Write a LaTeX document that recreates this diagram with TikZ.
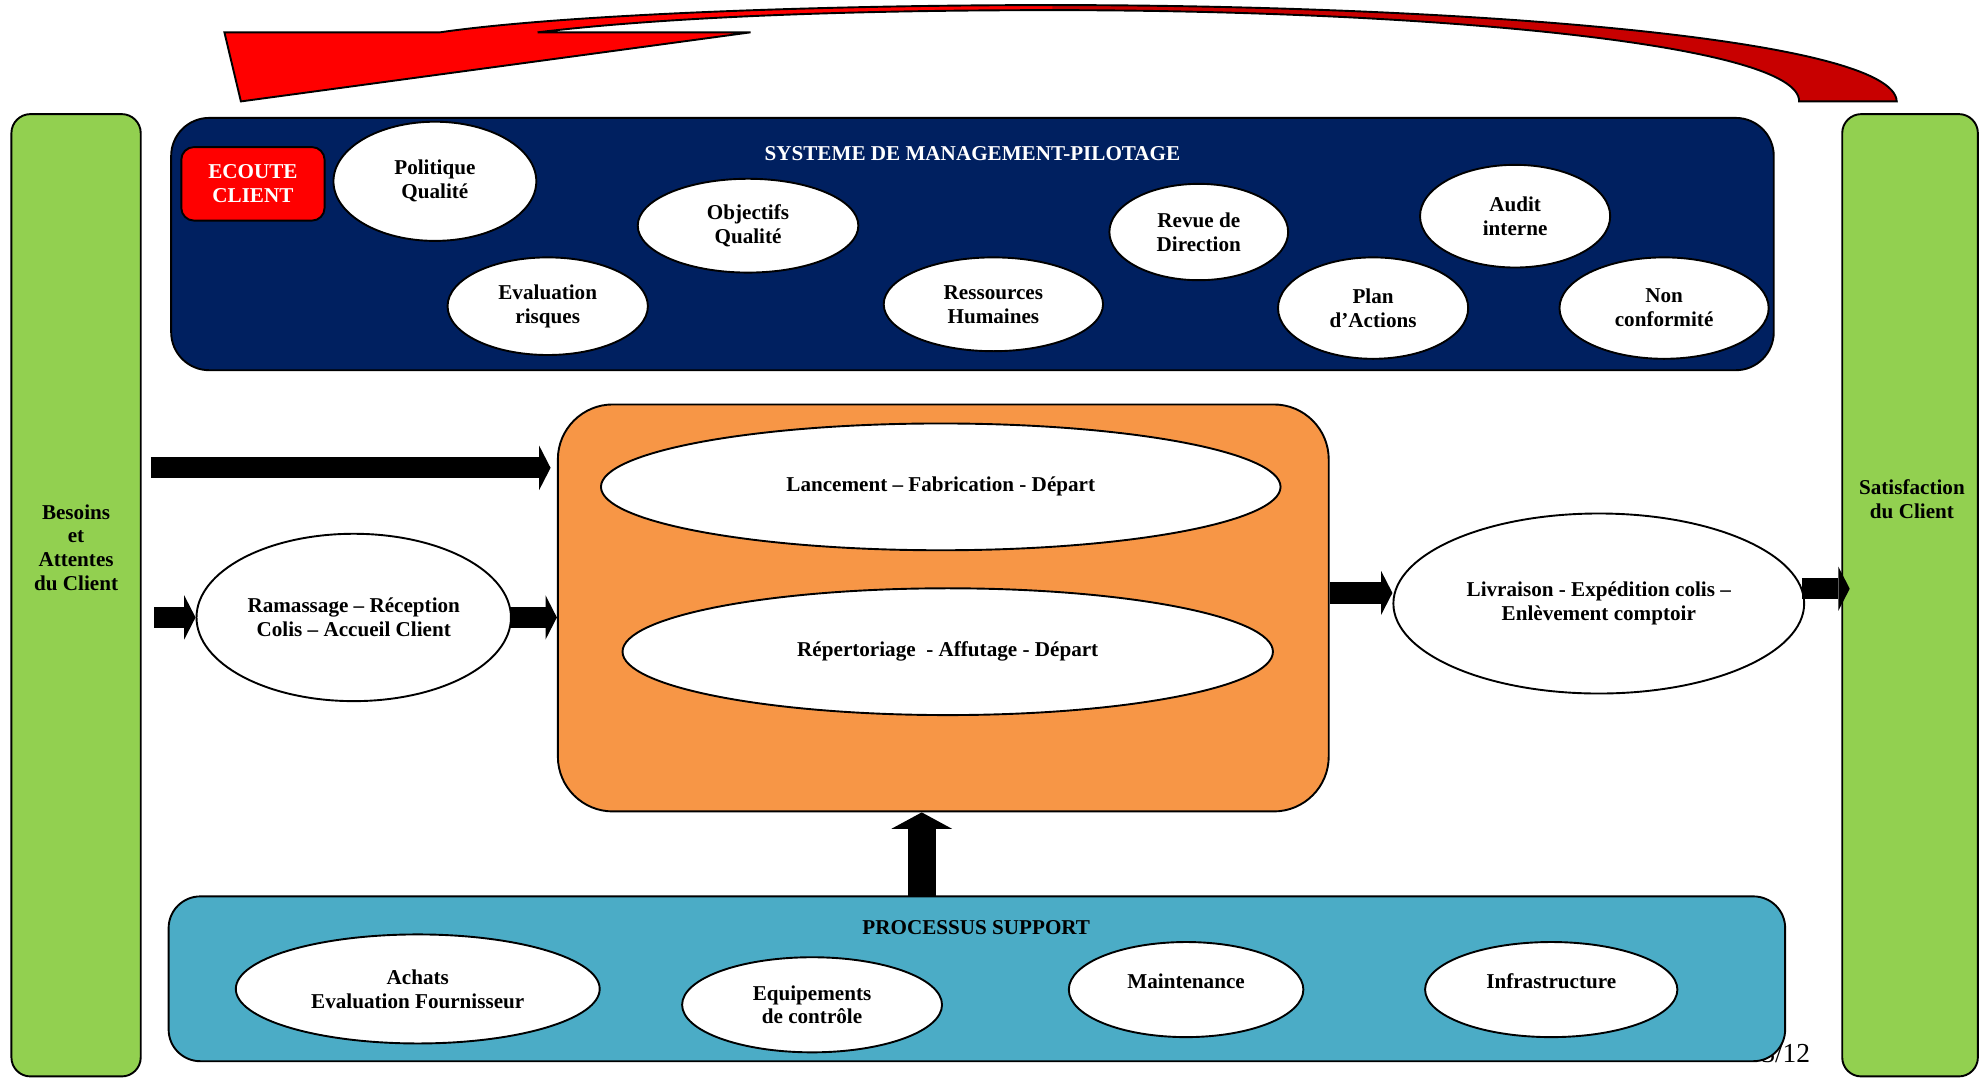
\documentclass[tikz,border=0pt]{standalone}
\usepackage{fontspec}
\setmainfont{Liberation Serif}
\usetikzlibrary{shapes.geometric,arrows.meta}
\definecolor{vert}{HTML}{92D050}
\definecolor{marine}{HTML}{002060}
\definecolor{orangeproc}{HTML}{F79646}
\definecolor{bleusup}{HTML}{4BACC6}
\definecolor{rouge}{HTML}{FF0000}
\definecolor{rougefonce}{HTML}{C80000}
\newcommand{\echelle}{0.6pt}
\newcommand{\lbl}{\bfseries\fontsize{10}{11.3}\selectfont}
\newcommand{\arcretour}{(1496,80) .. controls (1494,30) and (1150,4) .. (830,4)
    .. controls (640,4) and (440,12) .. (347,25.5) -- (177,25.5) -- (190,80)
    -- (592,25.5) -- (424,25.5) .. controls (520,14) and (660,8) .. (830,8)
    .. controls (1130,8) and (1420,35) .. (1419,80) -- cycle}
\tikzset{
    bulle/.style 2 args={ellipse, draw, line width=0.9pt, fill=white, inner sep=0pt,
        align=center, font=\lbl, minimum width={#1*\echelle}, minimum height={#2*\echelle}},
    cadre/.style 2 args={rectangle, draw, line width=0.9pt, inner sep=0pt,
        minimum width={#1*\echelle}, minimum height={#2*\echelle}},
    titre/.style={font=\lbl, align=center, inner sep=0pt},
    fleche/.style={line width=10pt, -{Triangle[length=5.4pt,width=21pt,line width=0pt]}},
    flechehaut/.style={line width=13.2pt, -{Triangle[length=7.8pt,width=28.8pt,line width=0pt]}}
}
\begin{document}
\begin{tikzpicture}[x=0.6pt,y=-0.6pt]
        \useasboundingbox (0,0) rectangle (1568,850);
        \fill[rouge] \arcretour;
        \begin{scope}
            \clip (830,0) rectangle (1568,90);
            \fill[rougefonce] \arcretour;
        \end{scope}
        \draw[line width=0.9pt, line join=miter] \arcretour;
        \node[anchor=base east, inner sep=0pt, font=\fontsize{13}{15}\selectfont] (page) at (1428,838) {3/12};
        \node[cadre={102}{759}, fill=vert, rounded corners=9pt] (besoins) at (60,469.5) {};
        \node[cadre={107}{759}, fill=vert, rounded corners=9pt] (satisf) at (1506.5,469.5) {};
        \node[titre] (besoinsT) at (60,432) {Besoins\\et\\Attentes\\du Client};
        \node[titre] (satisfT) at (1508,394) {Satisfaction\\du Client};
        \node[cadre={1264}{199}, fill=marine, rounded corners=18pt] (pilotage) at (767,192.5) {};
        \node[titre, text=white] (pilotageT) at (767,121) {SYSTEME DE MANAGEMENT-PILOTAGE};
        \node[cadre={113}{58}, fill=rouge, rounded corners=6pt, titre, text=white] (ecoute) at (199.5,145) {ECOUTE\\CLIENT};
        \node[bulle={160}{94}] (politique) at (343,143) {Politique\\Qualité};
        \node[bulle={174}{74}] (objectifs) at (590,178) {Objectifs\\Qualité};
        \node[bulle={158}{77}] (risques) at (432,241.5) {Evaluation\\risques};
        \node[bulle={173}{74}] (rh) at (783.5,240) {Ressources\\Humaines};
        \node[bulle={141}{76}] (revue) at (945.5,183) {Revue de\\Direction};
        \node[bulle={150}{81}] (audit) at (1195,170.5) {Audit\\interne};
        \node[bulle={150}{80}] (plan) at (1083,243) {Plan\\d’Actions};
        \node[bulle={165}{80}] (nc) at (1312.5,243) {Non\\conformité};
        \node[cadre={608}{321}, fill=orangeproc, rounded corners=26pt] (production) at (744,479.5) {};
        \node[bulle={536}{100}] (lancement) at (742,384) {Lancement – Fabrication - Départ};
        \node[bulle={513}{100}] (repert) at (747.5,514) {Répertoriage \ - Affutage - Départ};
        \node[bulle={248}{132}] (ramassage) at (279,487) {Ramassage – Réception\\Colis – Accueil Client};
        \node[bulle={324}{142}] (livraison) at (1261,476) {Livraison - Expédition colis –\\Enlèvement comptoir};
        \node[cadre={1275}{130}, fill=bleusup, rounded corners=15pt] (support) at (770.5,772) {};
        \node[titre] (supportT) at (770,732) {PROCESSUS SUPPORT};
        \node[bulle={287}{86}] (achats) at (329.5,780) {Achats\\Evaluation Fournisseur};
        \node[bulle={205}{75}] (equip) at (640.5,792.5) {Equipements\\de contrôle};
        \node[bulle={185}{75}, text depth=8.4pt] (maint) at (935.5,780.5) {Maintenance};
        \node[bulle={199}{75}, text depth=8.4pt] (infra) at (1223.5,780.5) {Infrastructure};
        \coordinate (entree) at (119,369);
        \coordinate (montee) at (727,707);
        \draw[fleche] (entree) -- ([xshift=-3pt]entree -| production.west);
        \draw[fleche] ([xshift=6pt]besoins.east |- ramassage.west) -- (ramassage.west);
        \draw[fleche] ([xshift=-1pt]ramassage.east) -- (ramassage.east -| production.west);
        \draw[fleche] ([yshift=5pt]production.east |- livraison.west) -- ([yshift=5pt]livraison.west);
        \draw[fleche] ([yshift=7pt,xshift=-1.5pt]livraison.east) -- ([yshift=7pt,xshift=4pt]livraison.east -| satisf.west);
        \draw[flechehaut] (montee) -- (montee |- production.south);
    \end{tikzpicture}
\end{document}
